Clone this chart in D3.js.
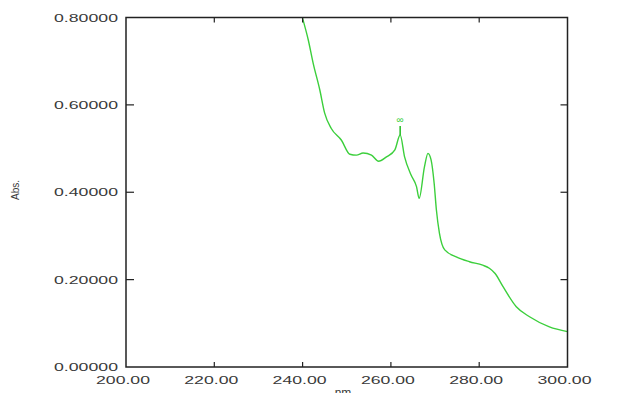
<!DOCTYPE html>
<html>
<head>
<meta charset="utf-8">
<script src="https://cdn.jsdelivr.net/npm/d3@7"></script>
<style>
  body { margin: 0; background: #fff; }
  svg { display: block; }
  text { font-family: "Liberation Sans", Arial, sans-serif; fill: #3a3a3a; }
</style>
</head>
<body>
<div id="chart"></div>
<script>
var wavelength = [239.6, 240.0, 241.3, 242.4, 243.9, 245.0, 246.5, 248.8, 250.7, 252.2, 253.7,
    255.6, 257.2, 259.0, 260.9, 262.1, 263.1, 264.6, 265.8, 266.4, 267.6, 268.4, 269.1,
    269.8, 270.3, 271.0, 272.2, 274.8, 277.8, 280.8, 282.3, 283.6, 285.4, 288.4, 291.4, 295.9, 300.0];
var absorbance = [0.812, 0.798, 0.748, 0.695, 0.634, 0.581, 0.546, 0.519, 0.487, 0.485, 0.490,
    0.485, 0.471, 0.481, 0.497, 0.531, 0.481, 0.439, 0.413, 0.386, 0.458, 0.489, 0.474,
    0.420, 0.360, 0.306, 0.268, 0.252, 0.241, 0.233, 0.226, 0.214, 0.184, 0.138, 0.115, 0.092, 0.081];
var xTicks = [200, 220, 240, 260, 280, 300];
var yTicks = [0, 0.2, 0.4, 0.6, 0.8];
var peakIndex = 15;
var peakLabel = "∞";

var width = 638, height = 393;
var plotLeft = 126, plotRight = 567.5, plotTop = 17.5, plotBottom = 367;

var svg = d3.select("#chart").append("svg")
    .attr("width", width)
    .attr("height", height);

var x = d3.scaleLinear().domain([200, 300]).range([plotLeft, plotRight]);
var y = d3.scaleLinear().domain([0, 0.8]).range([plotBottom, plotTop]);

var data = wavelength.map(function (w, i) {
    return { x: w, y: absorbance[i] };
});

svg.append("clipPath").attr("id", "plot")
    .append("rect")
    .attr("x", plotLeft).attr("y", plotTop)
    .attr("width", plotRight - plotLeft).attr("height", plotBottom - plotTop);

var line = d3.line()
    .x(function (d) { return x(d.x); })
    .y(function (d) { return y(d.y); })
    .curve(d3.curveMonotoneX);

svg.append("path")
    .datum(data)
    .attr("clip-path", "url(#plot)")
    .attr("d", line)
    .attr("fill", "none")
    .attr("stroke", "#3ccf3c")
    .attr("stroke-width", 1.4);

// peak pick mark
var peak = data[peakIndex];
svg.append("line")
    .attr("x1", x(peak.x)).attr("x2", x(peak.x))
    .attr("y1", y(peak.y)).attr("y2", y(peak.y) - 9)
    .attr("stroke", "#2fbf2f")
    .attr("stroke-width", 1.6);
svg.append("text")
    .attr("x", x(peak.x))
    .attr("y", y(peak.y) - 12)
    .attr("text-anchor", "middle")
    .style("font-size", "10px")
    .style("fill", "#3ccf3c")
    .text(peakLabel);

// frame
var axisColor = "#222";
svg.append("rect")
    .attr("x", plotLeft).attr("y", plotTop)
    .attr("width", plotRight - plotLeft).attr("height", plotBottom - plotTop)
    .attr("fill", "none")
    .attr("stroke", axisColor)
    .attr("stroke-width", 1.5);

var innerX = xTicks.slice(1, -1);
var innerY = yTicks.slice(1, -1);

svg.selectAll(".xtb").data(innerX).enter().append("line")
    .attr("x1", function (d) { return x(d); })
    .attr("x2", function (d) { return x(d); })
    .attr("y1", plotBottom).attr("y2", plotBottom - 5)
    .attr("stroke", axisColor).attr("stroke-width", 1.2);
svg.selectAll(".xtt").data(innerX).enter().append("line")
    .attr("x1", function (d) { return x(d); })
    .attr("x2", function (d) { return x(d); })
    .attr("y1", plotTop).attr("y2", plotTop + 5)
    .attr("stroke", axisColor).attr("stroke-width", 1.2);
svg.selectAll(".ytl").data(innerY).enter().append("line")
    .attr("y1", function (d) { return y(d); })
    .attr("y2", function (d) { return y(d); })
    .attr("x1", plotLeft).attr("x2", plotLeft + 8)
    .attr("stroke", axisColor).attr("stroke-width", 1.2);
svg.selectAll(".ytr").data(innerY).enter().append("line")
    .attr("y1", function (d) { return y(d); })
    .attr("y2", function (d) { return y(d); })
    .attr("x1", plotRight).attr("x2", plotRight - 7)
    .attr("stroke", axisColor).attr("stroke-width", 1.2);

// tick labels
svg.selectAll(".xl").data(xTicks).enter().append("text")
    .attr("x", function (d) { return x(d) - 3 - 27; })
    .attr("y", 384)
    .attr("textLength", 54)
    .attr("lengthAdjust", "spacingAndGlyphs")
    .style("font-size", "10.5px")
    .text(function (d) { return d3.format(".2f")(d); });

svg.selectAll(".yl").data(yTicks).enter().append("text")
    .attr("x", plotLeft - 8 - 64)
    .attr("y", function (d) { return y(d) + 4; })
    .attr("textLength", 64)
    .attr("lengthAdjust", "spacingAndGlyphs")
    .style("font-size", "10.5px")
    .text(function (d) { return d3.format(".5f")(d); });

// axis titles
svg.append("text")
    .attr("x", 343)
    .attr("y", 397)
    .attr("text-anchor", "middle")
    .style("font-size", "12px")
    .text("nm");

svg.append("text")
    .attr("transform", "translate(19,190) rotate(-90)")
    .attr("text-anchor", "middle")
    .style("font-size", "10px")
    .text("Abs.");
</script>
</body>
</html>
